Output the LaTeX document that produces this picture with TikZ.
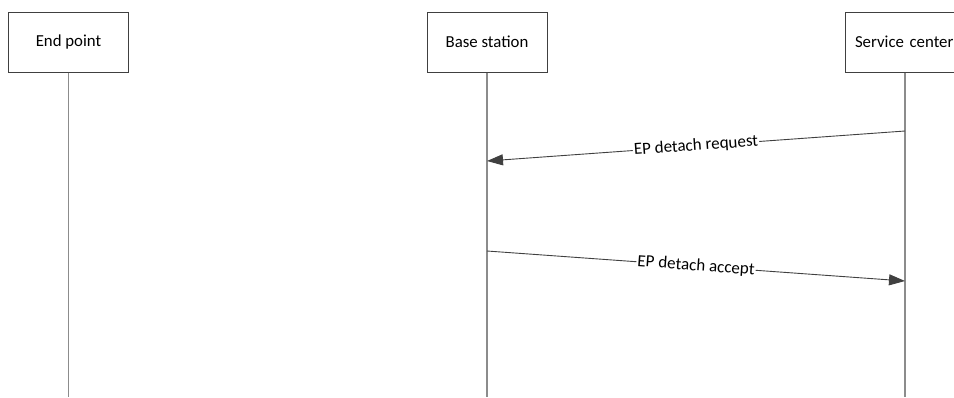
\documentclass[tikz,border=0pt]{standalone}
\usepackage{fontspec}
\setmainfont{Carlito}
\usetikzlibrary{arrows.meta}
\definecolor{boxline}{HTML}{404040}
\definecolor{lifeline}{HTML}{8C8C8C}
\definecolor{msgline}{HTML}{404040}
\tikzset{
  actor/.style={draw=boxline, line width=1pt, fill=white, minimum width=120pt, minimum height=60pt, inner sep=0pt, font=\fontsize{16.8}{20}\selectfont, text=black},
  life/.style={draw=lifeline, line width=1.6pt},
  msg/.style={draw=msgline, line width=0.9pt, -{Triangle[length=16pt,width=11pt]}},
  msglabel/.style={fill=white, inner sep=1pt, font=\fontsize{17}{20}\selectfont, text=black, sloped}
}
\begin{document}
\begin{tikzpicture}[x=1pt,y=-1pt]
\useasboundingbox (0,0) rectangle (954,397);
\begin{scope}
\clip (0,0) rectangle (954,397);
\node[actor] (ep) at (68.5,42) {End point};
\node[actor] (bs) at (487,42) {Base station};
\node[actor, text width=100pt, align=left] (sc) at (905,42) {Service center};
\coordinate (epb) at (68.5,397);
\coordinate (bsb) at (487,397);
\coordinate (scb) at (905,397);
\draw[life] (ep.south) -- (epb);
\draw[life] (bs.south) -- (bsb);
\draw[life] (sc.south) -- (scb);
\coordinate (m1s) at (905,131);
\coordinate (m1e) at (487,161);
\coordinate (m2s) at (487,251);
\coordinate (m2e) at (905,281);
\draw[msg] (m1s) -- node[msglabel] {EP detach request} (m1e);
\draw[msg] (m2s) -- node[msglabel] {EP detach accept} (m2e);
\end{scope}
\end{tikzpicture}
\end{document}
